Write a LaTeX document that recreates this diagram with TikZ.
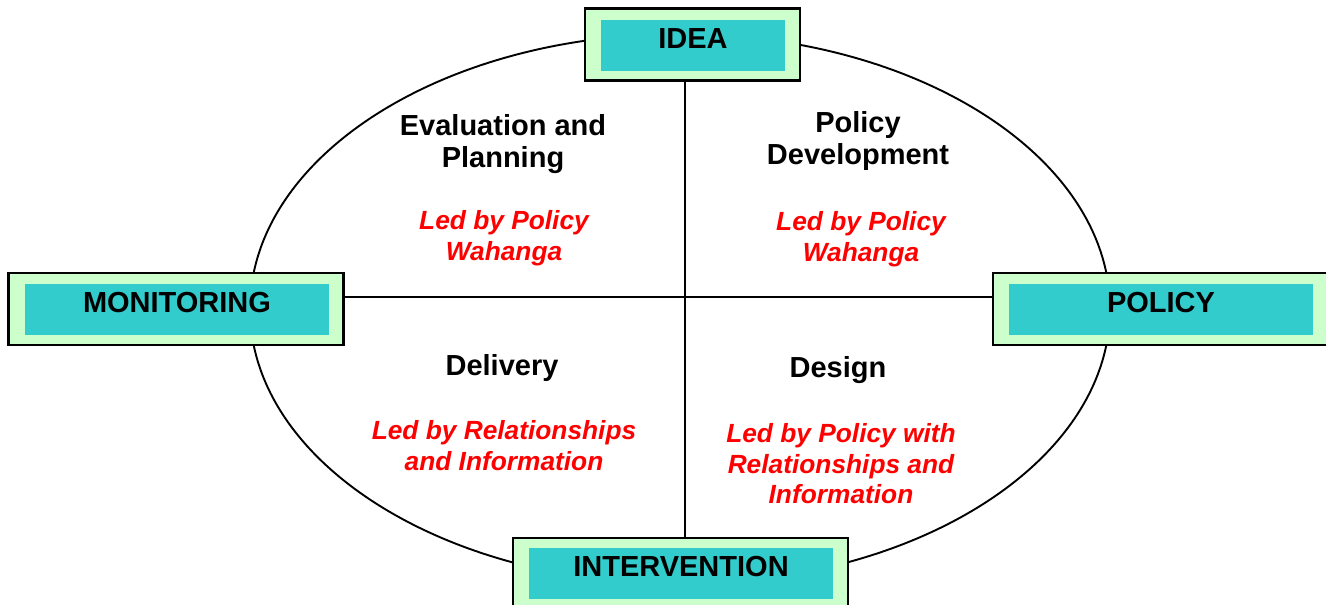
\documentclass[tikz,border=0pt]{standalone}
\usepackage{fontspec}
\setmainfont{Liberation Sans}
\usetikzlibrary{positioning}
\definecolor{framegreen}{HTML}{CCFFCC}
\definecolor{stageteal}{HTML}{33CCCC}
\tikzset{
    stageframe/.style={draw, line width=2.2pt, fill=framegreen, inner sep=0pt,
        minimum width=335pt, minimum height=72pt},
    stage/.style={fill=stageteal, inner sep=0pt, minimum width=304pt,
        text height=28pt, text depth=23pt, font=\fontsize{29}{32}\selectfont\bfseries},
    phase/.style={align=center, inner sep=0pt, font=\fontsize{29}{32}\selectfont\bfseries},
    lead/.style={align=center, inner sep=0pt, text=red,
        font=\fontsize{26.3}{30.5}\selectfont\bfseries\itshape}
}

\begin{document}
\begin{tikzpicture}[x=1pt, y=-1pt]
                                \path[use as bounding box, clip] (0, 0) rectangle (1326, 605);
                                \coordinate (rim) at (680, 309);
                                \coordinate (hub) at (685, 297);
                                \draw[line width=1.9pt] (rim) ellipse [x radius=430pt, y radius=275pt];
                                % the four stages
                                \node[stageframe, minimum width=215pt] (ideaf) at (692.5, 44.5) {};
                                \node[stage, minimum width=184pt] (idea) at (693, 45.5) {IDEA};
                                \node[stageframe] (monf) at (176, 309) {};
                                \node[stage] (mon) at (177, 309.5) {MONITORING};
                                \node[stageframe] (polf) at (1160.5, 309) {};
                                \node[stage] (pol) at (1161, 309.5) {POLICY};
                                \node[stageframe] (intf) at (680.5, 574) {};
                                \node[stage] (int) at (681, 573.5) {INTERVENTION};
                                \draw[line width=1.9pt]
                                (hub -| monf.east) -- (hub -| polf.west)
                                (hub |- ideaf.south) -- (hub |- intf.north);
                                % quadrants
                                \node[phase] (eval) at (503, 144) {Evaluation and\\Planning};
                                \node[lead] (evall) at (504, 238) {Led by Policy\\Wahanga};
                                \node[phase] (dev) at (858, 141) {Policy\\Development};
                                \node[lead] (devl) at (861, 239) {Led by Policy\\Wahanga};
                                \node[phase] (del) at (502, 368) {Delivery};
                                \node[lead] (dell) at (504, 445.5) {Led by Relationships\\and Information};
                                \node[phase] (des) at (838, 370) {Design};
                                \node[lead] (desl) at (841, 464) {Led by Policy with\\Relationships and\\Information};
                            \end{tikzpicture}
\end{document}
